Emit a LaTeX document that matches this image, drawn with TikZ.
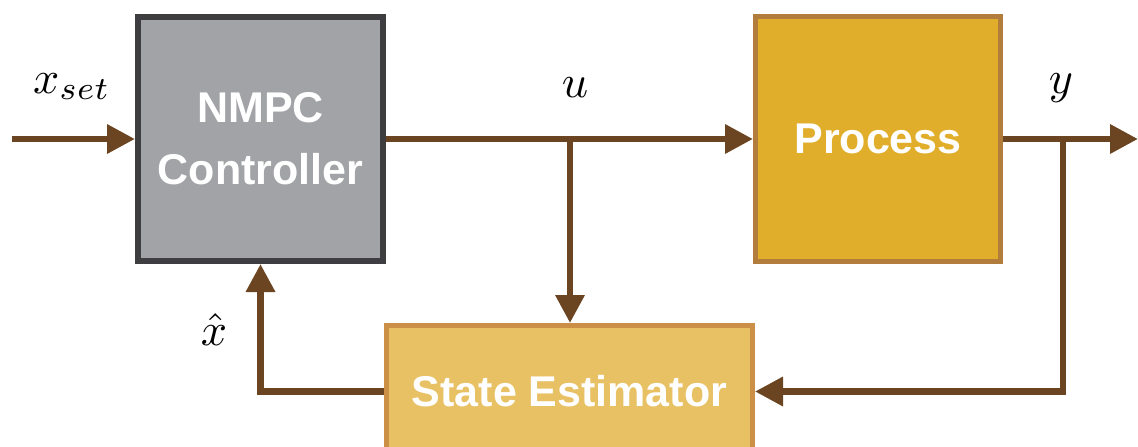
\documentclass[tikz,border=0pt]{standalone}
\usepackage{fontspec}
\newfontfamily\boxfont{Liberation Sans}
\usetikzlibrary{arrows.meta,calc}

\definecolor{ctrlfill}{HTML}{A2A3A7}
\definecolor{ctrldraw}{HTML}{3E3E40}
\definecolor{procfill}{HTML}{E1AE2B}
\definecolor{procdraw}{HTML}{B17C3C}
\definecolor{estfill}{HTML}{E8C164}
\definecolor{estdraw}{HTML}{CB9046}
\definecolor{wire}{HTML}{6B4521}

\newcommand{\siglabel}[1]{\scalebox{4.6}{$#1$}}

\tikzset{
  block/.style={rectangle, inner sep=0pt, text=white,
    font=\boxfont\bfseries\fontsize{43}{62}\selectfont, align=center},
  ctrlbox/.style={block, fill=ctrlfill, draw=ctrldraw, line width=6pt},
  procbox/.style={block, fill=procfill, draw=procdraw, line width=5pt},
  estbox/.style={block, fill=estfill, draw=estdraw, line width=5pt},
  signal/.style={draw=wire, line width=6.5pt,
    -{Triangle[length=28pt,width=28pt]}, line join=miter},
  sig/.style={inner sep=0pt}
}

\begin{document}
\begin{tikzpicture}[x=1pt,y=-1pt]
  \useasboundingbox (0,0) rectangle (1138,447);

  % blocks
  \node[ctrlbox, minimum width=245pt, minimum height=244pt] (nmpc) at (260.5,139) {NMPC\\Controller};
  \node[procbox, minimum width=245pt, minimum height=245pt] (proc) at (878,139) {Process};
  \node[estbox, minimum width=366pt, minimum height=132pt] (est) at (569.5,391.5) {State Estimator};

  % free ends and branch points
  \coordinate (src) at (12,139);
  \coordinate (sink) at (1138,139);
  \coordinate (utap) at (570,139);
  \coordinate (ytap) at (1063,139);

  % signal flow
  \draw[signal] (src) -- (nmpc.west);
  \draw[signal] (nmpc.east) -- (proc.west);
  \draw[signal] (proc.east) -- (sink);
  \draw[signal] (utap) -- (utap |- est.north);
  \draw[signal] (ytap) |- (est.east);
  \draw[signal] (est.west) -| (nmpc.south);

  % signal labels
  \node[sig, anchor=base west] (lxset) at (33,93) {\siglabel{x_{set}}};
  \node[sig, anchor=base] (lu) at (575,97) {\siglabel{u}};
  \node[sig, anchor=base] (ly) at (1061,93) {\siglabel{y}};
  \node[sig, anchor=base] (lxhat) at (214,345) {\siglabel{\hat{x}}};
\end{tikzpicture}
\end{document}
